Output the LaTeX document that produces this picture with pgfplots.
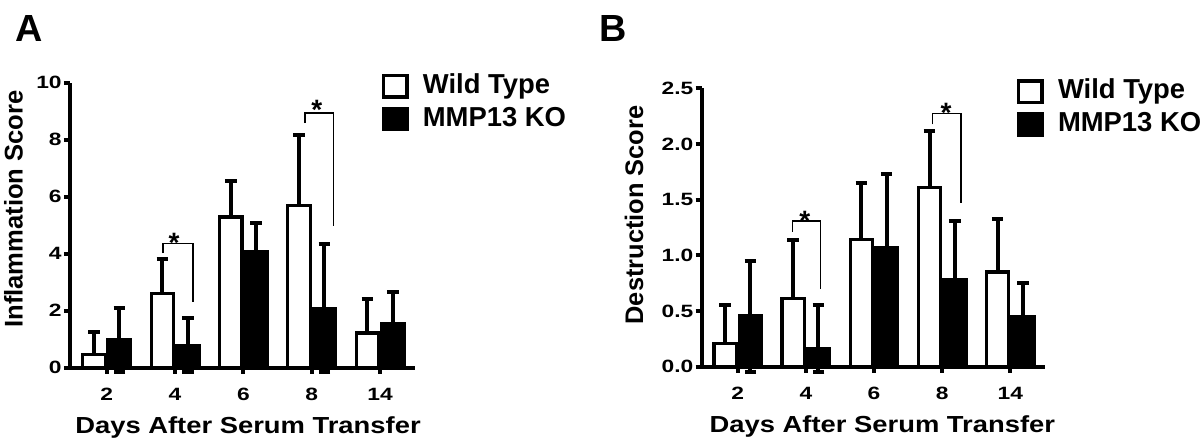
\documentclass[border=0pt]{standalone}
\usepackage{fontspec}
\setmainfont{Liberation Sans}
\newfontfamily\tickfont{Liberation Sans}[FakeStretch=1.28]
\newfontfamily\xlabfont{Liberation Sans}[FakeStretch=1.18]
\usepackage{pgfplots}
\usepackage{pgfplotstable}
\pgfplotsset{compat=1.18}

% Panel A: inflammation score (mean, SD)
\pgfplotstableread{
x wt wterr ko koerrp koerrm
0 0.46 0.79 0.97 1.11 1.11
1 2.60 1.21 0.79 0.94 0.94
2 5.29 1.27 4.07 1.00 1.00
3 5.70 2.48 2.08 2.25 2.24
4 1.22 1.19 1.56 1.11 1.11
}\dataA
% Panel B: destruction score (mean, SD)
\pgfplotstableread{
x wt wterr ko koerrp koerrm
0 0.21 0.34 0.455 0.495 0.50
1 0.61 0.53 0.165 0.385 0.21
2 1.14 0.51 1.07 0.66 0.66
3 1.61 0.51 0.78 0.53 0.53
4 0.85 0.48 0.45 0.30 0.30
}\dataB

\pgfplotsset{
  panel/.style={
    scale only axis,
    axis x line*=bottom, axis y line*=left,
    axis line style={line width=2pt, black},
    tick style={line width=2pt, black},
    tick align=outside, major tick length=3pt,
    xtick={0,1,2,3,4}, xticklabels={2,4,6,8,14},
    clip=false, axis on top,
    /pgf/number format/assume math mode=true,
    xticklabel style={font=\tickfont\bfseries\fontsize{8.9}{10}\selectfont, anchor=north, inner sep=0pt, yshift=-7pt},
    yticklabel style={font=\tickfont\bfseries\fontsize{8.9}{10}\selectfont, anchor=east, inner sep=0pt, xshift=-1pt},
    xlabel={Days After Serum Transfer},
    legend style={draw=none, fill=none, inner sep=0pt, outer sep=0pt,
      anchor=north west, row sep=4.15pt, column sep=7.2pt,
      nodes={inner sep=0pt, text height=0.72em, text depth=0pt,
        font=\bfseries\fontsize{13.7}{15}\selectfont},
      cells={anchor=west}},
  },
  errstyle/.style={
    error bars/error mark=|,
    error bars/error bar style={line width=2pt, black, solid},
    error bars/error mark options={line width=2pt, mark size=2.9pt, black, solid}},
  wtbar/.style={ybar, bar width=0.33, bar shift=0pt, draw=black, fill=white,
    line width=1.6pt,
    error bars/y dir=plus, error bars/y explicit, errstyle,
    legend image code/.code={\draw[line width=1.6pt, fill=white] (0pt,-5.35pt) rectangle (11.8pt,5.35pt);}},
  kobar/.style={ybar, bar width=0.33, bar shift=0pt, draw=black, fill=black,
    line width=1.6pt,
    error bars/y dir=both, error bars/y explicit, errstyle,
    legend image code/.code={\draw[line width=1.6pt, fill=black] (0pt,-5.35pt) rectangle (11.8pt,5.35pt);}},
  bracket/.style={line width=0.7pt, black, mark=none, forget plot},
}

\begin{document}
\begin{tikzpicture}
\path[use as bounding box] (0,0) rectangle (600pt,221pt);

% ---------------- Panel A ----------------
\begin{axis}[panel,
  at={(35pt,37.15pt)}, anchor=south west,
  width=172.5pt, height=142.5pt,
  xmin=-0.537, xmax=4.51, ymin=0, ymax=10,
  ytick={0,2,4,6,8,10},
  ylabel={Inflammation Score},
  ylabel style={at={(axis description cs:-0.164,0.557)}, anchor=center,
    font=\bfseries\fontsize{12.8}{14}\selectfont},
  xlabel style={at={(axis description cs:0.5,0)}, anchor=base, yshift=-32.8pt, xshift=2.75pt,
    font=\xlabfont\bfseries\fontsize{11.6}{13}\selectfont},
  legend style={at={(axis description cs:0.9035,1.0305)}},
]
\addplot[wtbar] table[x expr=\thisrow{x}-0.185, y=wt, y error=wterr] {\dataA};
\addlegendentry{Wild Type}
\addplot[kobar] table[x expr=\thisrow{x}+0.185, y=ko, y error plus=koerrp, y error minus=koerrm] {\dataA};
\addlegendentry{MMP13 KO}
\addplot[bracket] coordinates {(0.824,4.02) (0.824,4.36) (1.264,4.36) (1.264,2.32)};
\addplot[bracket] coordinates {(2.903,8.58) (2.903,8.93) (3.318,8.93) (3.318,4.98)};
\node[anchor=north, inner sep=0pt, font=\bfseries\fontsize{14}{14}\selectfont] at (axis cs:0.985,4.72) {*};
\node[anchor=north, inner sep=0pt, font=\bfseries\fontsize{14}{14}\selectfont] at (axis cs:3.075,9.39) {*};
\node[anchor=north west, inner sep=0pt, font=\bfseries\fontsize{18.9}{20}\selectfont] at (rel axis cs:-0.159,1.2375) {A};
\end{axis}

% ---------------- Panel B ----------------
\begin{axis}[panel,
  at={(350.85pt,37.65pt)}, anchor=south west,
  width=171.65pt, height=139.2pt,
  xmin=-0.529, xmax=4.51, ymin=0, ymax=2.5,
  ytick={0,0.5,1,1.5,2,2.5},
  yticklabel style={/pgf/number format/.cd, fixed, fixed zerofill, precision=1},
  ylabel={Destruction Score},
  ylabel style={at={(axis description cs:-0.197,0.545)}, anchor=center,
    font=\bfseries\fontsize{12.7}{14}\selectfont},
  xlabel style={at={(axis description cs:0.5,0)}, anchor=base, yshift=-32.8pt, xshift=4.5pt,
    font=\xlabfont\bfseries\fontsize{11.6}{13}\selectfont},
  legend style={at={(axis description cs:0.918,1.0318)}},
]
\addplot[wtbar] table[x expr=\thisrow{x}-0.185, y=wt, y error=wterr] {\dataB};
\addlegendentry{Wild Type}
\addplot[kobar] table[x expr=\thisrow{x}+0.185, y=ko, y error plus=koerrp, y error minus=koerrm] {\dataB};
\addlegendentry{MMP13 KO}
\addplot[bracket] coordinates {(0.805,1.21) (0.805,1.308) (1.216,1.308) (1.216,0.70)};
\addplot[bracket] coordinates {(2.862,2.176) (2.862,2.275) (3.279,2.275) (3.279,1.467)};
\node[anchor=north, inner sep=0pt, font=\bfseries\fontsize{14}{14}\selectfont] at (axis cs:0.985,1.40) {*};
\node[anchor=north, inner sep=0pt, font=\bfseries\fontsize{14}{14}\selectfont] at (axis cs:3.059,2.365) {*};
\node[anchor=north west, inner sep=0pt, font=\bfseries\fontsize{18.9}{20}\selectfont] at (rel axis cs:-0.299,1.263) {B};
\end{axis}
\end{tikzpicture}
\end{document}
